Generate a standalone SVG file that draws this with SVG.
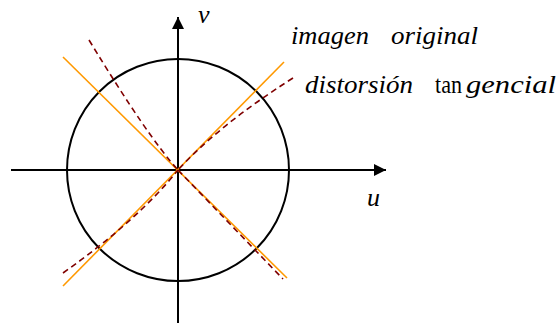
<svg xmlns="http://www.w3.org/2000/svg" width="559" height="325" viewBox="0 0 559 325">
<style>
.ax{stroke:#000;stroke-width:2;fill:none}
.or{stroke:#FF9900;stroke-width:1.6;fill:none}
.dr{stroke:#7F0000;stroke-width:1.6;fill:none;stroke-dasharray:6,4}
.t{font-family:"Liberation Serif","Times New Roman",serif;font-size:26px;fill:#000}
.i{font-style:italic}
</style>
<defs>
<marker id="ah" viewBox="0 0 10 10" refX="10" refY="5" markerWidth="14" markerHeight="12" markerUnits="userSpaceOnUse" orient="auto">
<path d="M0,0 L10,5 L0,10 Z" fill="#000"/>
</marker>
</defs>
<g id="circle"><circle cx="178" cy="170" r="111" class="ax" stroke-width="1.8"/></g>
<g id="axes">
<line x1="11" y1="170" x2="386" y2="170" class="ax" marker-end="url(#ah)"/>
<line x1="178" y1="323" x2="178" y2="17" class="ax" marker-end="url(#ah)"/>
</g>
<g id="connectors">
<line x1="63" y1="57" x2="287" y2="278" class="or"/>
<line x1="284" y1="62" x2="63" y2="286" class="or"/>
<path d="M89,40 Q148,137 178,170" class="dr"/>
<path d="M293,78 Q219,125 178,170" class="dr"/>
<path d="M63,273 Q138,220 178,170" class="dr"/>
<path d="M178,170 L283,279" class="dr"/>
</g>
<g id="labels">
<text x="198" y="23" class="t i">v</text>
<text x="367" y="206" class="t i">u</text>
<text x="291" y="44" class="t i" textLength="78" lengthAdjust="spacingAndGlyphs">imagen</text>
<text x="391" y="44" class="t i" textLength="87" lengthAdjust="spacingAndGlyphs">original</text>
<text x="305" y="93" class="t i" textLength="108" lengthAdjust="spacingAndGlyphs">distorsión</text>
<text x="435" y="93" class="t" textLength="27" lengthAdjust="spacingAndGlyphs">tan</text>
<text x="466" y="93" class="t i" textLength="90" lengthAdjust="spacingAndGlyphs">gencial</text>
</g>
</svg>
